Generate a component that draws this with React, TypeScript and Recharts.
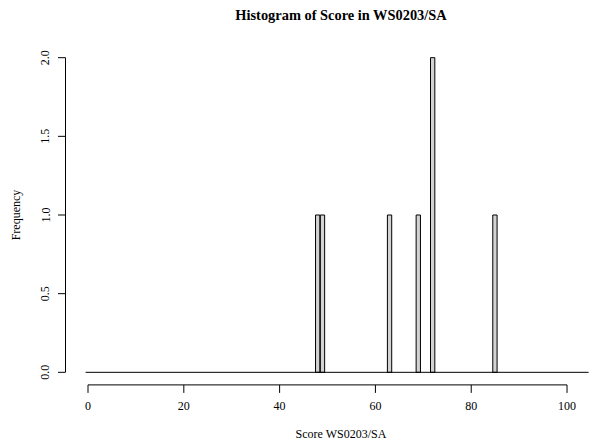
import { BarChart, Bar, XAxis, YAxis, ReferenceLine } from 'recharts';

// histogram bins (width 1, centred on the integer score) and their counts
const binCenters = [48, 49, 63, 69, 72, 85];
const binCounts = [1, 1, 1, 1, 2, 1];

const xTicks = [0, 20, 40, 60, 80, 100];
const yTicks = [0, 0.5, 1, 1.5, 2];

// full range of the bins (zero-count bins show as a flat line)
const binRange = [-0.5, 104.5];

const data = binCenters.map((x, i) => ({ x, count: binCounts[i] }));

const W = 596;
const H = 444;
const Y_AXIS_W = 65.5;
const X_DOMAIN: [number, number] = [-4.7, 106.05];
const Y_DOMAIN: [number, number] = [-0.08, 2.08];
const PX_PER_UNIT = (W - Y_AXIS_W) / (X_DOMAIN[1] - X_DOMAIN[0]);

const font = '"Liberation Serif", "DejaVu Serif", serif';

function YTick(props: any) {
  const { x, y, payload } = props;
  const tx = x - 8.5;
  return (
    <text x={tx} y={y} transform={`rotate(-90, ${tx}, ${y})`} textAnchor="middle" fontSize={12} fontFamily={font} fill="#000">
      {payload.value.toFixed(1)}
    </text>
  );
}

export default function App() {
  return (
    <div style={{ position: 'absolute', left: 0, top: 0, width: W, height: H, background: '#fff' }}>
      <BarChart width={W} height={H} data={data} margin={{ top: 45.1, right: 0, left: 0, bottom: 29.1 }}>
        <XAxis
          dataKey="x"
          type="number"
          domain={X_DOMAIN}
          allowDataOverflow
          ticks={xTicks}
          axisLine={false}
          tickLine={{ stroke: '#000' }}
          tickSize={8}
          tickMargin={9}
          height={30}
          tick={{ fontSize: 12, fontFamily: font, fill: '#000' }}
        />
        <YAxis
          type="number"
          domain={Y_DOMAIN}
          allowDataOverflow
          ticks={yTicks}
          axisLine={false}
          tickLine={{ stroke: '#000' }}
          tickSize={7.5}
          tickMargin={0}
          width={Y_AXIS_W}
          tick={<YTick />}
        />
        <ReferenceLine
          segment={[{ x: xTicks[0], y: Y_DOMAIN[0] }, { x: xTicks[xTicks.length - 1], y: Y_DOMAIN[0] }]}
          stroke="#000"
          ifOverflow="visible"
        />
        <ReferenceLine
          segment={[{ x: X_DOMAIN[0], y: yTicks[0] }, { x: X_DOMAIN[0], y: yTicks[yTicks.length - 1] }]}
          stroke="#000"
          ifOverflow="visible"
        />
        <ReferenceLine
          segment={[{ x: binRange[0], y: 0 }, { x: binRange[1], y: 0 }]}
          stroke="#000"
          ifOverflow="visible"
        />
        <Bar dataKey="count" fill="#d3d3d3" stroke="#000" strokeWidth={1} barSize={PX_PER_UNIT} isAnimationActive={false} />
        <text x={341} y={20} textAnchor="middle" fontSize={14.4} fontWeight="bold" fontFamily={font} fill="#000">
          Histogram of Score in WS0203/SA
        </text>
        <text x={341} y={438} textAnchor="middle" fontSize={12} fontFamily={font} fill="#000">
          Score WS0203/SA
        </text>
        <text x={20} y={215} transform="rotate(-90, 20, 215)" textAnchor="middle" fontSize={12} fontFamily={font} fill="#000">
          Frequency
        </text>
      </BarChart>
    </div>
  );
}
